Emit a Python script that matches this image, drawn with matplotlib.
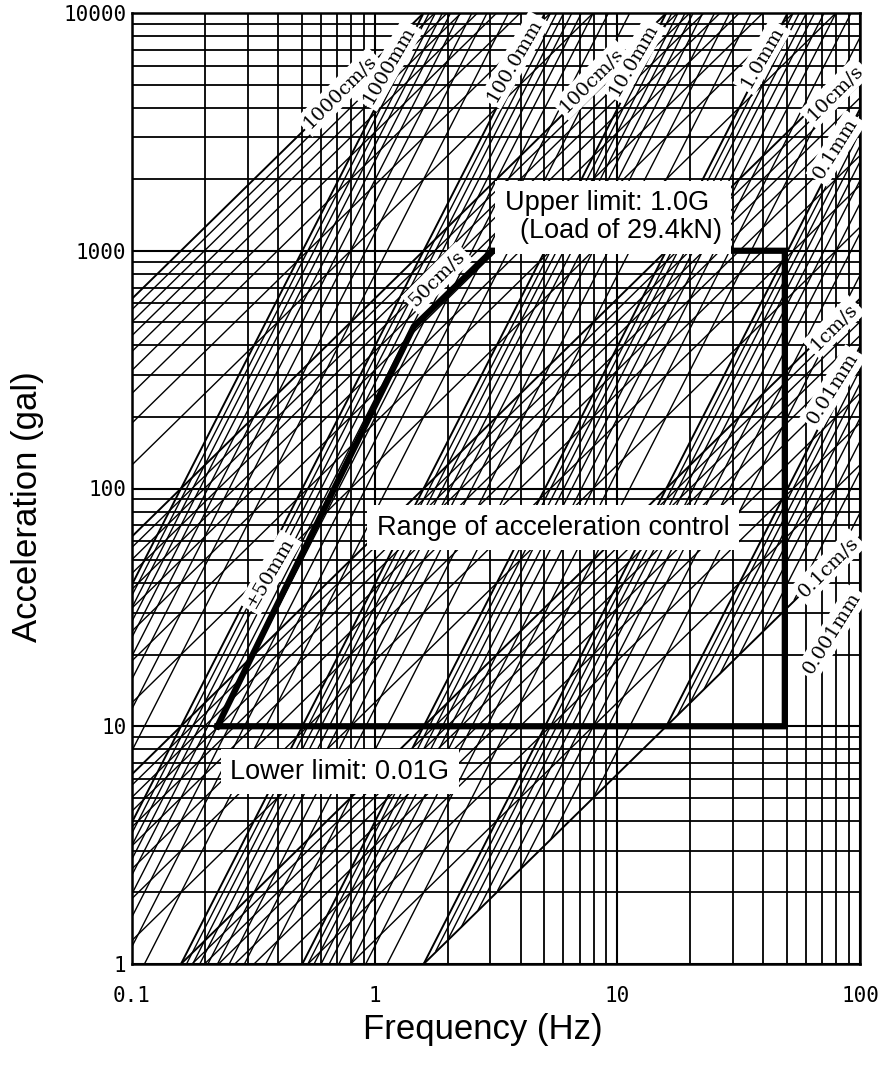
import numpy as np
import matplotlib.pyplot as plt
from matplotlib.ticker import FixedLocator, LogLocator, NullFormatter

# axis ticks
freq_ticks = [0.1, 1, 10, 100]
freq_tick_labels = ['0.1', '1', '10', '100']
acc_ticks = [1, 10, 100, 1000, 10000]
acc_tick_labels = ['1', '10', '100', '1000', '10000']

# scale lines of the nomograph
vel_lines = [m * d for d in [0.1, 1, 10, 100] for m in range(1, 10)] + [1000]          # cm/s
disp_lines = [m * d for d in [0.001, 0.01, 0.1, 1, 10, 100] for m in range(1, 10)] + [1000]  # mm
vel_min, vel_max = 0.1, 1000      # cm/s
disp_min = 0.001                  # mm

# range of acceleration control (Hz, gal)
range_f = [0.225, 1.45, 3.05, 49, 49, 0.225]
range_a = [10, 480, 1000, 1000, 10, 10]

# scale labels: text, freq, acc, rotation
scale_labels = [
    ('1000cm/s', 0.72, 4660, 45),
    ('1000mm', 1.15, 6040, 60),
    ('100.0mm', 3.78, 6340, 60),
    ('100cm/s', 7.85, 5230, 45),
    ('10.0mm', 11.7, 6340, 60),
    ('1.0mm', 39.5, 6530, 60),
    ('10cm/s', 78.9, 4620, 45),
    ('0.1mm', 79.6, 2700, 58),
    ('1cm/s', 78.0, 478, 45),
    ('0.01mm', 77.3, 265, 58),
    ('0.1cm/s', 73.8, 46.8, 45),
    ('0.001mm', 76.6, 24.7, 58),
    ('50cm/s', 1.81, 768, 45),
    ('±50mm', 0.371, 44.2, 60),
]

fig = plt.figure(figsize=(8.85, 10.75), dpi=100)
ax = fig.add_axes([132 / 885, 1 - 964 / 1075, 728 / 885, 951 / 1075])
ax.set_xscale('log')
ax.set_yscale('log')
ax.set_xlim(0.1, 100)
ax.set_ylim(1, 10000)

f = np.logspace(-1, 2, 600)
w = 2 * np.pi * f

for v in vel_lines:
    a = w * v
    d_mm = v / w * 10
    a = np.where(d_mm >= disp_min, a, np.nan)
    lw = 1.4 if v in (0.1, 1, 10, 100, 1000) else 1.0
    ax.plot(f, a, color='black', lw=lw, zorder=2)

for dm in disp_lines:
    d = dm / 10
    a = w ** 2 * d
    v = w * d
    a = np.where((v >= vel_min) & (v <= vel_max), a, np.nan)
    lw = 1.4 if dm in (0.001, 0.01, 0.1, 1, 10, 100, 1000) else 1.0
    ax.plot(f, a, color='black', lw=lw, zorder=2)

# grid
ax.xaxis.set_major_locator(FixedLocator(freq_ticks))
ax.yaxis.set_major_locator(FixedLocator(acc_ticks))
ax.xaxis.set_minor_locator(LogLocator(base=10, subs=range(2, 10)))
ax.yaxis.set_minor_locator(LogLocator(base=10, subs=range(2, 10)))
ax.xaxis.set_minor_formatter(NullFormatter())
ax.yaxis.set_minor_formatter(NullFormatter())
ax.set_xticklabels(freq_tick_labels)
ax.set_yticklabels(acc_tick_labels)
ax.grid(which='major', color='black', lw=1.5, zorder=1)
ax.grid(which='minor', color='black', lw=1.3, zorder=1)
ax.set_axisbelow(True)
ax.tick_params(which='both', length=0)
ax.tick_params(axis='x', pad=16)
ax.tick_params(axis='y', pad=4)
for lab in ax.get_xticklabels() + ax.get_yticklabels():
    lab.set_fontfamily('DejaVu Sans Mono')
    lab.set_fontsize(15)
for s in ax.spines.values():
    s.set_linewidth(1.8)

# scale labels
for txt, fx, ay, rot in scale_labels:
    ax.text(fx, ay, txt, rotation=rot, rotation_mode='anchor', ha='center', va='center',
            family='DejaVu Serif', fontsize=14, zorder=4,
            bbox=dict(facecolor='white', edgecolor='none', pad=2.5))

# control range
ax.plot(range_f, range_a, color='black', lw=4.5, solid_joinstyle='miter', zorder=5)

box = dict(facecolor='white', edgecolor='none', boxstyle='square,pad=0.35')
ax.text(3.44, 1386, 'Upper limit: 1.0G\n  (Load of 29.4kN)', ha='left', va='center',
        family='Liberation Sans', fontsize=19.5, linespacing=1.1, zorder=6, bbox=box)
ax.text(1.02, 68.3, 'Range of acceleration control', ha='left', va='center',
        family='Liberation Sans', fontsize=19.5, zorder=6, bbox=box)
ax.text(0.254, 6.43, 'Lower limit: 0.01G', ha='left', va='center',
        family='Liberation Sans', fontsize=19.5, zorder=6, bbox=box)

fig.text(483 / 885, 1 - 1030 / 1075, 'Frequency (Hz)', ha='center', va='center',
         family='Liberation Sans', fontsize=25)
fig.text(28 / 885, 1 - 507 / 1075, 'Acceleration (gal)', ha='center', va='center',
         rotation=90, family='Liberation Sans', fontsize=25)

fig.savefig('out.png', dpi=100)
